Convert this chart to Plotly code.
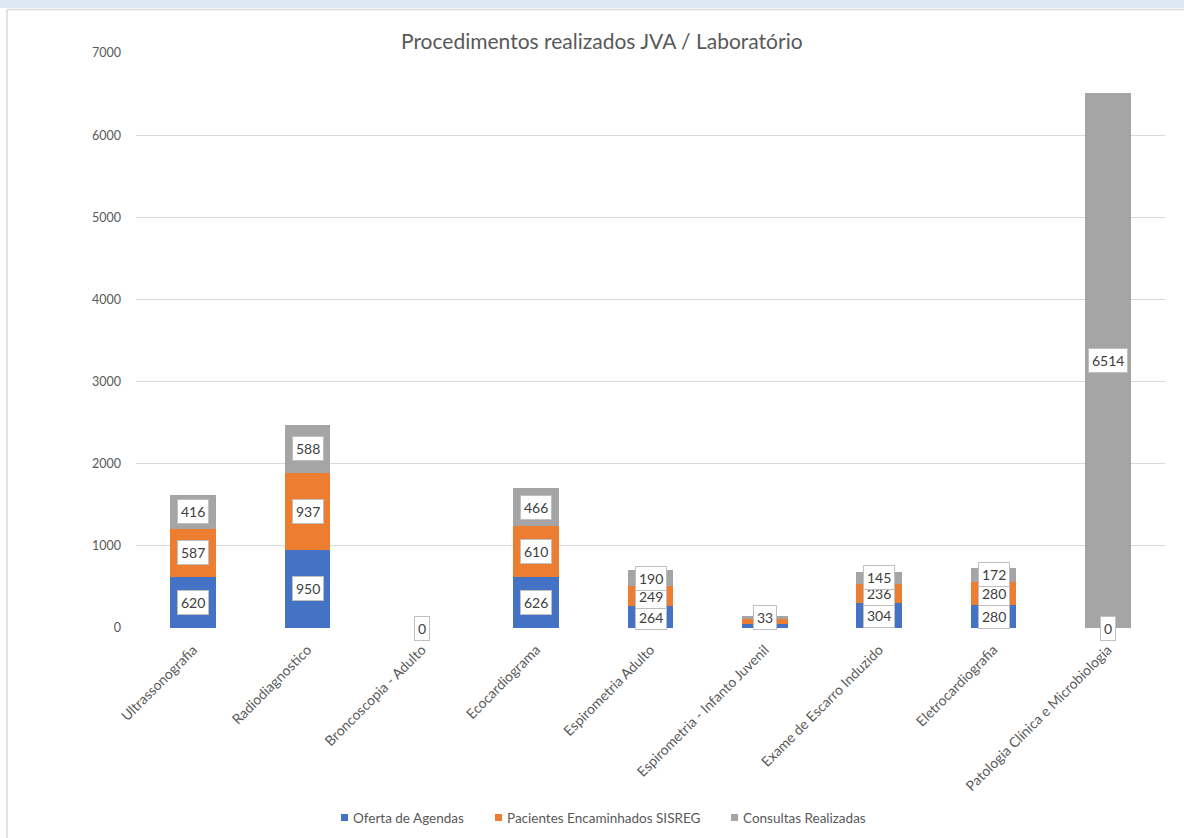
import plotly.graph_objects as go

# Procedures and the three series, stacked per procedure
categorias = [
    "Ultrassonografia",
    "Radiodiagnostico",
    "Broncoscopia - Adulto",
    "Ecocardiograma",
    "Espirometria Adulto",
    "Espirometria - Infanto Juvenil",
    "Exame de Escarro Induzido",
    "Eletrocardiografia",
    "Patologia Clínica e Microbiologia",
]
oferta_agendas = [620, 950, 0, 626, 264, 50, 304, 280, 0]
pacientes_sisreg = [587, 937, 0, 610, 249, 60, 236, 280, 0]
consultas_realizadas = [416, 588, 0, 466, 190, 33, 145, 172, 6514]

eixo_y_ticks = [0, 1000, 2000, 3000, 4000, 5000, 6000, 7000]

series = [
    ("Oferta de Agendas", oferta_agendas, "#4472C4"),
    ("Pacientes Encaminhados SISREG", pacientes_sisreg, "#ED7D31"),
    ("Consultas Realizadas", consultas_realizadas, "#A5A5A5"),
]

FONT = "Lato, 'Open Sans', sans-serif"
W, H = 1184, 838
L, R, T, B = 136, 19, 53, 210


def px_x(p):
    return (p - L) / (W - L - R)


def px_y(p):
    return (H - B - p) / (H - T - B)


fig = go.Figure()
for nome, valores, cor in series:
    fig.add_trace(go.Bar(
        name=nome, x=categorias, y=valores, marker_color=cor,
        marker_line_width=0, showlegend=False,
    ))

# value boxes centred on each segment; a single "0" per bar for empty
# segments, and thin segments under the top one keep their label hidden
annotations = []
for i, cat in enumerate(categorias):
    base = 0
    zero_drawn = False
    for k, (nome, valores, cor) in enumerate(series):
        v = valores[i]
        is_top = (k == len(series) - 1)
        show = True
        if v == 0:
            show = not zero_drawn
            zero_drawn = True
        elif v < 100 and not is_top:
            show = False
        if show:
            annotations.append(dict(
                x=cat, y=base + v / 2, xref="x", yref="y",
                text=str(v), showarrow=False,
                font=dict(family=FONT, size=14, color="#404040"),
                bgcolor="white", bordercolor="#BFBFBF", borderwidth=1,
                borderpad=3,
            ))
        base += v

annotations.append(dict(
    text="Procedimentos realizados JVA / Laboratório",
    xref="paper", yref="paper", x=px_x(602), y=px_y(40),
    showarrow=False, font=dict(family=FONT, size=21, color="#595959"),
    xanchor="center", yanchor="middle",
))

shapes = [
    # light band across the top of the page
    dict(type="rect", xref="paper", yref="paper", x0=px_x(0), x1=px_x(W),
         y0=px_y(8), y1=px_y(0), fillcolor="#DEE8F4", line_width=0, layer="below"),
    # chart frame (top and left edges)
    dict(type="line", xref="paper", yref="paper", x0=px_x(7), x1=px_x(W),
         y0=px_y(9.5), y1=px_y(9.5), line=dict(color="#D9D9D9", width=1.5)),
    dict(type="line", xref="paper", yref="paper", x0=px_x(7), x1=px_x(7),
         y0=px_y(9.5), y1=px_y(H), line=dict(color="#D9D9D9", width=1.5)),
]

# legend along the bottom: colour square followed by the series name
legend_x = [341, 495, 731]
for (nome, valores, cor), lx in zip(series, legend_x):
    shapes.append(dict(
        type="rect", xref="paper", yref="paper",
        x0=px_x(lx), x1=px_x(lx + 7), y0=px_y(821), y1=px_y(814),
        fillcolor=cor, line_width=0,
    ))
    annotations.append(dict(
        text=nome, xref="paper", yref="paper", x=px_x(lx + 10), y=px_y(817.5),
        xanchor="left", yanchor="middle", showarrow=False,
        font=dict(family=FONT, size=13.5, color="#595959"),
    ))

fig.update_layout(
    barmode="stack",
    bargap=0.6,
    width=W, height=H,
    margin=dict(l=L, r=R, t=T, b=B, autoexpand=False),
    paper_bgcolor="white", plot_bgcolor="white",
    font=dict(family=FONT, size=12, color="#595959"),
    showlegend=False,
    annotations=annotations,
    shapes=shapes,
    xaxis=dict(
        tickangle=-45, showgrid=False, showline=False, ticks="",
        ticklabelstandoff=10,
        tickfont=dict(family=FONT, size=14, color="#595959"),
    ),
    yaxis=dict(
        range=[0, 7000], tickvals=eixo_y_ticks, showgrid=True,
        gridcolor="#D9D9D9", gridwidth=1, zeroline=False, showline=False,
        ticks="", ticklabelstandoff=14,
        tickfont=dict(family=FONT, size=12.5, color="#595959"),
    ),
)

fig.write_html("out.html")
